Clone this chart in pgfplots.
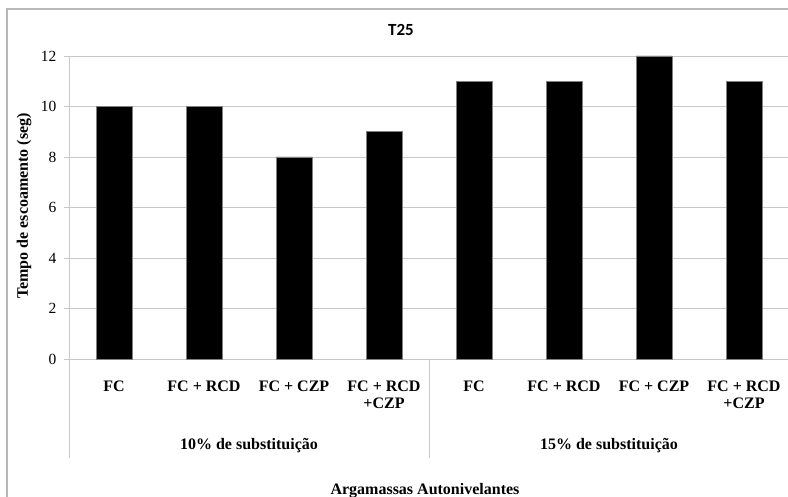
\documentclass[border=0pt]{standalone}
\usepackage{fontspec}
\setmainfont{Liberation Serif}
\newfontfamily\titlefont{Carlito}
\usepackage{pgfplots}
\pgfplotsset{compat=1.18}
\usetikzlibrary{calc}

\definecolor{gridgray}{HTML}{C8C8C8}
\definecolor{framegray}{HTML}{B8B8B8}
\definecolor{edgegray}{HTML}{808080}

\begin{document}
\begin{tikzpicture}[x=1pt,y=1pt]
  \useasboundingbox (0,0) rectangle (788,497);
  % outer chart frame (top and left edges)
  \draw[framegray, line width=1.6pt] (7,-5) -- (7,488) -- (800,488);
  \begin{axis}[
    at={(69pt,138pt)}, anchor=origin,
    scale only axis,
    width=720pt, height=303pt,
    xmin=0, xmax=8,
    ymin=0, ymax=12,
    ytick={0,2,...,12},
    xtick={0.5,1.5,...,7.5},
    xticklabels={FC, FC + RCD, FC + CZP, {FC + RCD\\+CZP},
                 FC, FC + RCD, FC + CZP, {FC + RCD\\+CZP}},
    axis x line*=bottom,
    axis y line*=left,
    axis line style={gridgray, line width=0.9pt},
    x axis line style={-},
    y axis line style={-},
    ymajorgrids,
    grid style={gridgray, line width=0.9pt},
    major x tick style={draw=none},
    major y tick style={gridgray, line width=0.9pt},
    tick align=outside,
    major tick length=5pt,
    /pgf/number format/assume math mode=true,
    yticklabel style={font=\fontsize{15.5}{18}\selectfont, xshift=-4pt},
    xticklabel style={font=\bfseries\fontsize{16}{17.5}\selectfont, align=center,
                      anchor=north, yshift=-13pt},
    ybar, bar width=36pt, bar shift=0pt,
    clip=false,
  ]
    \addplot[fill=black, draw=edgegray, line width=0.6pt] coordinates {
      (0.5,10) (1.5,10) (2.5,8) (3.5,9)
      (4.5,11) (5.5,11) (6.5,12) (7.5,11)
    };
    % group separators and group labels
    \draw[gridgray, line width=0.9pt] (axis cs:0,0) -- ++(0,-99pt);
    \draw[gridgray, line width=0.9pt] (axis cs:4,0) -- ++(0,-99pt);
    \draw[gridgray, line width=0.9pt] (axis cs:8,0) -- ++(0,-99pt);
    \node[font=\bfseries\fontsize{16}{19}\selectfont] at ($(axis cs:2,0)+(0,-87pt)$) {10\% de substituição};
    \node[font=\bfseries\fontsize{16}{19}\selectfont] at ($(axis cs:6,0)+(0,-87pt)$) {15\% de substituição};
  \end{axis}
  \node[font=\titlefont\bfseries\fontsize{17}{20}\selectfont] at (401,467) {T25};
  \node[font=\bfseries\fontsize{16}{19}\selectfont, rotate=90] at (24,291) {Tempo de escoamento (seg)};
  \node[font=\bfseries\fontsize{16}{19}\selectfont, anchor=base] at (425,2) {Argamassas Autonivelantes};
\end{tikzpicture}
\end{document}
